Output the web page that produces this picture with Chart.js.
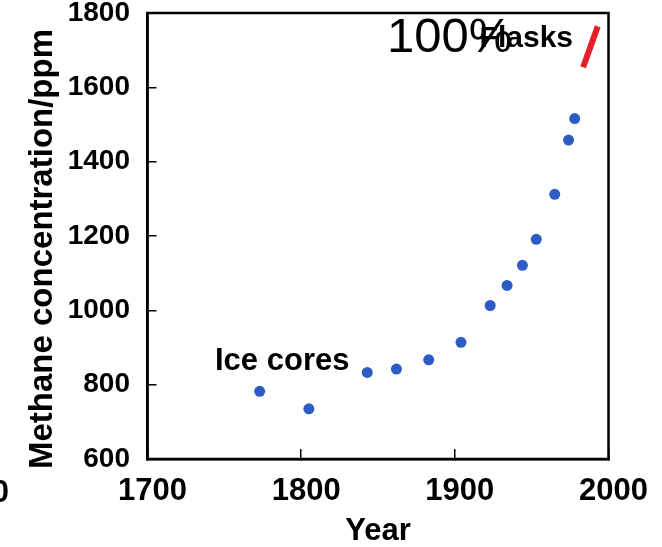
<!DOCTYPE html>
<html lang="en">
<head>
    <meta charset="UTF-8">
    <title>Methane concentration</title>
    <script src="https://cdn.jsdelivr.net/npm/chart.js"></script>
    <style>
        body {
            margin: 0;
            background: #ffffff;
        }
        canvas {
            display: block;
        }
    </style>
</head>
<body>

<canvas id="methaneChart" width="662" height="547"></canvas>

<script>
    // Ice core samples
    const iceYears = [1773, 1805, 1843, 1862, 1883, 1904, 1923, 1934, 1944, 1953, 1965, 1974, 1978];
    const iceCH4 = [782, 735, 833, 842, 867, 914, 1013, 1067, 1121, 1191, 1312, 1458, 1516];

    // Flask measurements (short red segment)
    const flaskYears = [1983.5, 1993];
    const flaskCH4 = [1654, 1764];

    // Tick labels
    const xTicks = [1700, 1800, 1900, 2000];
    const yTicks = [600, 800, 1000, 1200, 1400, 1600, 1800];

    const FONT = "'Liberation Sans', Arial, sans-serif";

    function toPoints(xs, ys) {
        return xs.map((x, i) => ({ x: x, y: ys[i] }));
    }

    // keep the plot box where it is in the figure: no extra room for edge labels
    function noEdgePadding(scale) {
        scale.paddingTop = 0;
        scale.paddingBottom = 0;
        scale.paddingLeft = 0;
        scale.paddingRight = 0;
    }

    // box around the plot + the text notes
    const framePlugin = {
        id: 'frame',
        beforeDatasetsDraw(chart) {
            const { ctx, chartArea: a } = chart;
            ctx.save();
            ctx.strokeStyle = '#000';
            ctx.lineWidth = 2.5;
            ctx.strokeRect(a.left, a.top, a.right - a.left, a.bottom - a.top);
            ctx.restore();
        },
        afterDraw(chart) {
            const ctx = chart.ctx;
            ctx.save();
            ctx.fillStyle = '#000';
            ctx.textBaseline = 'alphabetic';

            // y axis title, sits a bit lower than the plot centre in the figure
            ctx.save();
            ctx.font = 'bold 33px ' + FONT;
            ctx.textAlign = 'center';
            ctx.translate(52, 249);
            ctx.rotate(-Math.PI / 2);
            ctx.fillText('Methane concentration/ppm', 0, 0);
            ctx.restore();

            ctx.font = 'bold 31px ' + FONT;
            ctx.textAlign = 'left';
            ctx.fillText('Ice cores', 215, 370);

            // cropped label at the far left edge
            ctx.textAlign = 'right';
            ctx.fillText('1600', 9, 502);

            ctx.font = '49px ' + FONT;
            ctx.textAlign = 'left';
            ctx.fillText('100%', 387, 52);

            ctx.font = 'bold 30px ' + FONT;
            ctx.textAlign = 'right';
            ctx.fillText('Flasks', 573, 47);
            ctx.restore();
        }
    };

    const ctx = document.getElementById('methaneChart').getContext('2d');
    const methaneChart = new Chart(ctx, {
        type: 'scatter',
        data: {
            datasets: [
                {
                    label: 'Ice cores',
                    data: toPoints(iceYears, iceCH4),
                    backgroundColor: '#2d5cc4',
                    borderWidth: 0,
                    pointRadius: 5.5,
                    showLine: false
                },
                {
                    label: 'Flasks',
                    data: toPoints(flaskYears, flaskCH4),
                    borderColor: '#e5202a',
                    borderWidth: 6,
                    pointRadius: 0,
                    showLine: true
                }
            ]
        },
        options: {
            responsive: false,
            animation: false,
            layout: {
                padding: { top: 13, right: 53.5, left: 0, bottom: 0 }
            },
            plugins: {
                legend: { display: false },
                tooltip: { enabled: false }
            },
            scales: {
                x: {
                    type: 'linear',
                    min: 1700,
                    max: 2000,
                    afterBuildTicks: (scale) => { scale.ticks = xTicks.map(v => ({ value: v })); },
                    afterFit: (scale) => { scale.height = 88; noEdgePadding(scale); },
                    ticks: {
                        color: '#000',
                        font: { family: FONT, size: 31, weight: 'bold' },
                        padding: 24,
                        labelOffset: 5,
                        maxRotation: 0,
                        callback: (v) => String(v)
                    },
                    grid: {
                        drawOnChartArea: false,
                        tickLength: -10,
                        color: '#000',
                        lineWidth: 1.5
                    },
                    border: { color: '#000', width: 2.5 },
                    title: {
                        display: true,
                        text: 'Year',
                        color: '#000',
                        font: { family: FONT, size: 31, weight: 'bold', lineHeight: 1 },
                        padding: 0
                    }
                },
                y: {
                    type: 'linear',
                    min: 600,
                    max: 1800,
                    afterBuildTicks: (scale) => { scale.ticks = yTicks.map(v => ({ value: v })); },
                    afterFit: (scale) => { scale.width = 147.5; noEdgePadding(scale); },
                    ticks: {
                        color: '#000',
                        font: { family: FONT, size: 28, weight: 'bold' },
                        padding: 26.5,
                        callback: (v) => String(v)
                    },
                    grid: {
                        drawOnChartArea: false,
                        tickLength: -9,
                        color: '#000',
                        lineWidth: 1.5
                    },
                    border: { color: '#000', width: 2.5 }
                }
            }
        },
        plugins: [framePlugin]
    });
</script>

</body>
</html>
